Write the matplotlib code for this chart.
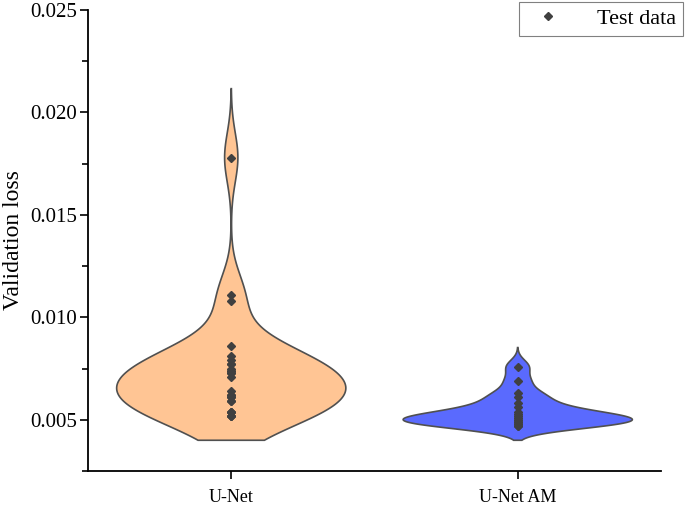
import numpy as np
import matplotlib.pyplot as plt
from matplotlib.ticker import MultipleLocator, FormatStrFormatter
from matplotlib.lines import Line2D

plt.rcParams['font.family'] = ['Liberation Serif', 'DejaVu Serif']

# --- data (overlapping points repeated) ---
groups = ["U-Net", "U-Net AM"]
unet_loss = [0.0178, 0.0111, 0.0108, 0.0086, 0.0081, 0.0079, 0.0077, 0.0077, 0.0075,
             0.0074, 0.0074, 0.0073, 0.0073, 0.0071, 0.0064, 0.0062, 0.0062, 0.0061,
             0.0061, 0.0059, 0.0059, 0.0054, 0.0054, 0.0054, 0.0052, 0.0052, 0.0052]
unet_am_loss = [0.0076, 0.0069, 0.0063, 0.0061, 0.0058, 0.0056, 0.0054, 0.0053,
                0.0052, 0.0052, 0.0051, 0.0050, 0.0050, 0.0049, 0.0049, 0.0048,
                0.0048, 0.0047, 0.0047]
bandwidths = [0.0012, 0.00033]
violin_colors = ["#FFC594", "#5A6AFE"]
lower_cut = 0.004

fig = plt.figure(figsize=(6.85, 5.05), dpi=100)
ax = fig.add_axes([88 / 685, 1 - 471 / 505, (661 - 88) / 685, (471 - 10) / 505])


def kde(data, h, grid):
    d = np.asarray(data)
    return np.exp(-0.5 * ((grid[:, None] - d[None, :]) / h) ** 2).sum(axis=1)


for i, (data, h, col) in enumerate(zip([unet_loss, unet_am_loss], bandwidths, violin_colors)):
    pos = i + 1
    grid = np.linspace(lower_cut, max(data) + 2.8 * h, 400)
    dens = kde(data, h, grid)
    half = 0.4 * dens / dens.max()
    xs = np.concatenate([pos - half, (pos + half)[::-1]])
    ys = np.concatenate([grid, grid[::-1]])
    ax.fill(xs, ys, facecolor=col, edgecolor="#505050", linewidth=1.2, zorder=2)
    ax.plot([pos] * len(data), data, linestyle="none", marker="D", markersize=4,
            color="#404040", zorder=3)

ax.set_xlim(0.5, 2.5)
ax.set_ylim(0.0025, 0.025)
ax.set_xticks([1, 2])
ax.set_xticklabels(groups)
ax.yaxis.set_major_locator(MultipleLocator(0.005))
ax.yaxis.set_minor_locator(MultipleLocator(0.0025))
ax.yaxis.set_major_formatter(FormatStrFormatter('%.3f'))
ax.set_ylabel("Validation loss", fontsize=17, labelpad=4)

for s in ["top", "right"]:
    ax.spines[s].set_visible(False)
for s in ["left", "bottom"]:
    ax.spines[s].set_linewidth(1.3)
ax.tick_params(axis="y", which="major", direction="out", length=6, width=1.2, labelsize=15, pad=2)
ax.tick_params(axis="y", which="minor", direction="out", length=4, width=1.2)
ax.tick_params(axis="x", which="major", direction="out", length=6, width=1.2, labelsize=13, pad=7)

handle = Line2D([], [], linestyle="none", marker="D", markersize=4, color="#404040")
leg = fig.legend([handle], ["Test data"], loc="upper right",
                 bbox_to_anchor=(683 / 685, 1 - 2 / 505), borderaxespad=0,
                 fontsize=16, fancybox=False, framealpha=1, edgecolor="#808080",
                 handletextpad=1.2, borderpad=0.3)
leg.get_frame().set_linewidth(0.8)

fig.savefig("out.png", dpi=100)
